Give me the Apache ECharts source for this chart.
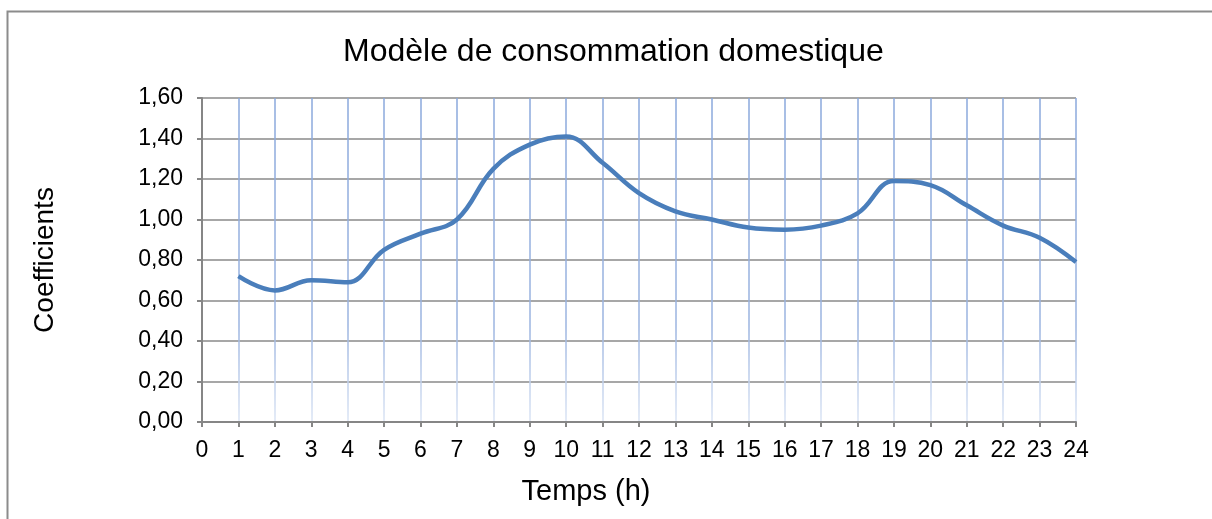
<!DOCTYPE html>
<html>
<head>
<meta charset="utf-8">
<script src="https://cdn.jsdelivr.net/npm/echarts@6/dist/echarts.min.js"></script>
<style>
  html, body { margin: 0; padding: 0; background: #ffffff; }
  #chart { width: 1212px; height: 519px; }
</style>
</head>
<body>
<div id="chart"></div>
<script>
const hours = [1, 2, 3, 4, 5, 6, 7, 8, 9, 10, 11, 12, 13, 14, 15, 16, 17, 18, 19, 20, 21, 22, 23, 24];
const coeffs = [0.72, 0.65, 0.70, 0.69, 0.85, 0.93, 1.00, 1.25, 1.37, 1.41, 1.28, 1.13, 1.04, 1.00, 0.96, 0.95, 0.97, 1.03, 1.19, 1.17, 1.07, 0.97, 0.91, 0.79];

const chart = echarts.init(document.getElementById('chart'), null, { renderer: 'canvas' });

const font = 'Liberation Sans, Arial, sans-serif';

const option = {
  backgroundColor: '#ffffff',
  animation: false,
  title: {
    text: 'Modèle de consommation domestique',
    left: 338,
    top: 31,
    textStyle: { fontFamily: font, fontSize: 32, fontWeight: 'normal', color: '#000' }
  },
  graphic: [{
    type: 'rect',
    shape: { x: 7.5, y: 11.5, width: 1230, height: 540 },
    style: { fill: null, stroke: '#8c8c8c', lineWidth: 2 },
    silent: true
  }],
  grid: { left: 202, top: 98, right: 136, bottom: 97 },
  xAxis: {
    type: 'value',
    min: 0,
    max: 24,
    interval: 1,
    name: 'Temps (h)',
    nameLocation: 'middle',
    nameGap: 55,
    nameTextStyle: { fontFamily: font, fontSize: 29, color: '#000', padding: [0, 106, 0, 0] },
    axisLine: { lineStyle: { color: '#868686', width: 2 } },
    axisTick: { show: true, length: 5, lineStyle: { color: '#868686', width: 2 } },
    axisLabel: { fontFamily: font, fontSize: 23, color: '#000', margin: 17 },
    splitLine: {
      show: true,
      lineStyle: {
        width: 1.5,
        color: new echarts.graphic.LinearGradient(0, 0, 0, 1, [
          { offset: 0, color: '#8aa8dc' },
          { offset: 0.7, color: '#9bb4e0' },
          { offset: 1, color: '#dde6f5' }
        ])
      }
    }
  },
  yAxis: {
    type: 'value',
    min: 0,
    max: 1.6,
    interval: 0.2,
    name: 'Coefficients',
    nameLocation: 'middle',
    nameGap: 143,
    nameRotate: 90,
    nameTextStyle: { fontFamily: font, fontSize: 28, color: '#000' },
    axisLine: { show: true, lineStyle: { color: '#868686', width: 2 } },
    axisTick: { show: true, length: 5, lineStyle: { color: '#868686', width: 2 } },
    axisLabel: {
      fontFamily: font, fontSize: 23, color: '#000', margin: 19,
      formatter: v => v.toFixed(2).replace('.', ',')
    },
    splitLine: { show: true, lineStyle: { color: '#8a8a8a', width: 1.5 } }
  },
  series: [{
    type: 'line',
    data: hours.map((h, i) => [h, coeffs[i]]),
    smooth: 0.4,
    showSymbol: false,
    lineStyle: { color: '#4a7ebb', width: 4.5 }
  }]
};

chart.setOption(option);
</script>
</body>
</html>
